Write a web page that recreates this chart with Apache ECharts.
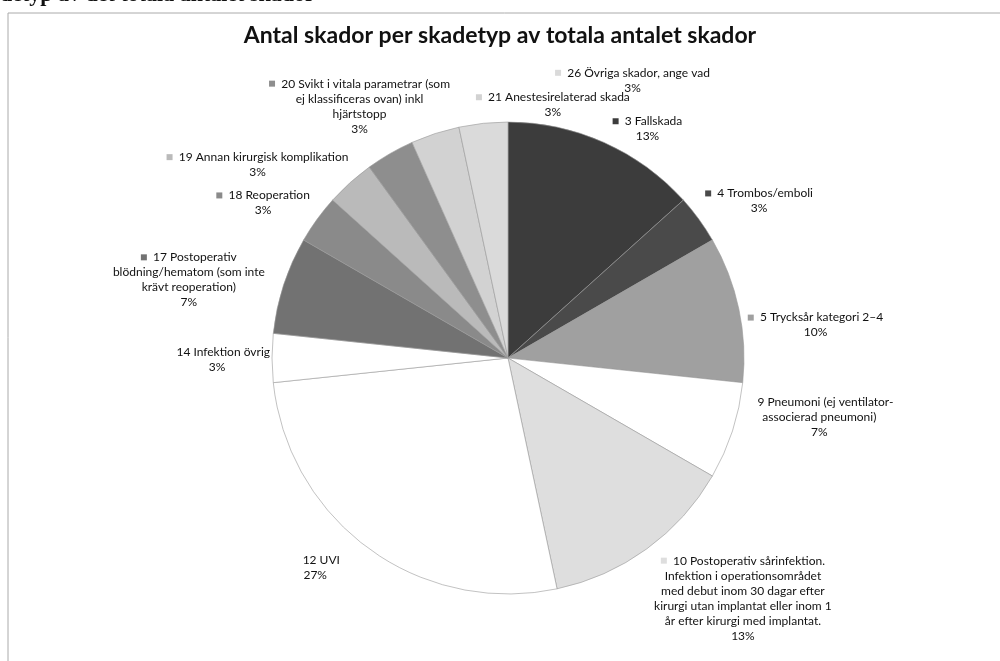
<!DOCTYPE html>
<html>
<head>
<meta charset="utf-8">
<script src="https://cdn.jsdelivr.net/npm/echarts@6/dist/echarts.min.js"></script>
<style>
html,body{margin:0;padding:0;background:#fff;}
#main{width:1000px;height:661px;}
</style>
</head>
<body>
<div id="main"></div>
<script>
// skadetyper
var categories = [
  '3 Fallskada',
  '4 Trombos/emboli',
  '5 Trycksår kategori 2–4',
  '9 Pneumoni (ej ventilator-associerad pneumoni)',
  '10 Postoperativ sårinfektion. Infektion i operationsområdet med debut inom 30 dagar efter kirurgi utan implantat eller inom 1 år efter kirurgi med implantat.',
  '12 UVI',
  '14 Infektion övrig',
  '17 Postoperativ blödning/hematom (som inte krävt reoperation)',
  '18 Reoperation',
  '19 Annan kirurgisk komplikation',
  '20 Svikt i vitala parametrar (som ej klassificeras ovan) inkl hjärtstopp',
  '21 Anestesirelaterad skada',
  '26 Övriga skador, ange vad'
];
// antal skador per typ
var counts = [4, 1, 3, 2, 4, 8, 1, 2, 1, 1, 1, 1, 1];
// etiketter med radbrytningar som i originalet
var labelText = [
  '3 Fallskada',
  '4 Trombos/emboli',
  '5 Trycksår kategori 2–4',
  '9 Pneumoni (ej ventilator-\nassocierad pneumoni)',
  '10 Postoperativ sårinfektion.\nInfektion i operationsområdet\nmed debut inom 30 dagar efter\nkirurgi utan implantat eller inom 1\når efter kirurgi med implantat.',
  '12 UVI',
  '14 Infektion övrig',
  '17 Postoperativ\nblödning/hematom (som inte\nkrävt reoperation)',
  '18 Reoperation',
  '19 Annan kirurgisk komplikation',
  '20 Svikt i vitala parametrar (som\nej klassificeras ovan) inkl\nhjärtstopp',
  '21 Anestesirelaterad skada',
  '26 Övriga skador, ange vad'
];
var colors = ['#3c3c3c', '#4a4a4a', '#a0a0a0', '#ffffff', '#dedede', '#ffffff', '#ffffff',
  '#727272', '#8a8a8a', '#bababa', '#8e8e8e', '#d2d2d2', '#dadada'];

var total = counts.reduce(function (a, b) { return a + b; }, 0);
var font = 'Lato, "Open Sans", sans-serif';

// flytta etiketterna ungefär dit Excel lade dem
var labelShift = [
  [2, -10], [-2, -16], [0, 17], [4, -15], [0, 46], [-22, 15], [7, 2],
  [-10, -4], [1, -14], [6, -15], [67, -44], [201, -25], [232, -39]
];

var myChart = echarts.init(document.getElementById('main'));

var pieData = categories.map(function (name, i) {
  return {
    name: name,
    value: counts[i],
    itemStyle: { color: colors[i] },
    label: {
      rich: {
        k: { width: 6, height: 6, backgroundColor: colors[i] }
      }
    }
  };
});

var opt = {
  backgroundColor: '#fff',
  title: {
    text: 'Antal skador per skadetyp av totala antalet skador',
    left: 'center',
    top: 19,
    textStyle: { fontFamily: font, fontSize: 23, fontWeight: 'bold', color: '#111' }
  },
  graphic: [
    {
      type: 'text', left: 0, top: -16,
      style: { text: 'detyp av det totala antalet skador', font: 'bold 22px "Liberation Serif", serif', fill: '#111' }
    },
    {
      type: 'rect', shape: { x: 8, y: 13, width: 1000, height: 660 },
      style: { fill: 'none', stroke: '#aaa', lineWidth: 1 }
    }
  ],
  series: [
    {
      name: 'Antal skador',
      type: 'pie',
      center: [508, 358],
      radius: [0, 236],
      startAngle: 90,
      clockwise: true,
      avoidLabelOverlap: false,
      itemStyle: { borderColor: '#999', borderWidth: 0.6 },
      label: {
        show: true,
        position: 'outside',
        alignTo: 'none',
        fontFamily: font,
        fontSize: 12,
        lineHeight: 15,
        color: '#111',
        formatter: function (p) {
          var pct = Math.round(p.value / total * 100);
          return '{k|}  ' + labelText[p.dataIndex] + '\n' + pct + '%';
        }
      },
      labelLine: { show: false, length: 4, length2: 0 },
      labelLayout: function (params) {
        var r = params.labelRect;
        var s = labelShift[params.dataIndex];
        return {
          x: r.x + r.width / 2 + s[0],
          y: r.y + r.height / 2 + s[1],
          align: 'center',
          verticalAlign: 'middle'
        };
      },
      emphasis: { disabled: true },
      data: pieData
    }
  ]
};

myChart.setOption(opt);
</script>
</body>
</html>
